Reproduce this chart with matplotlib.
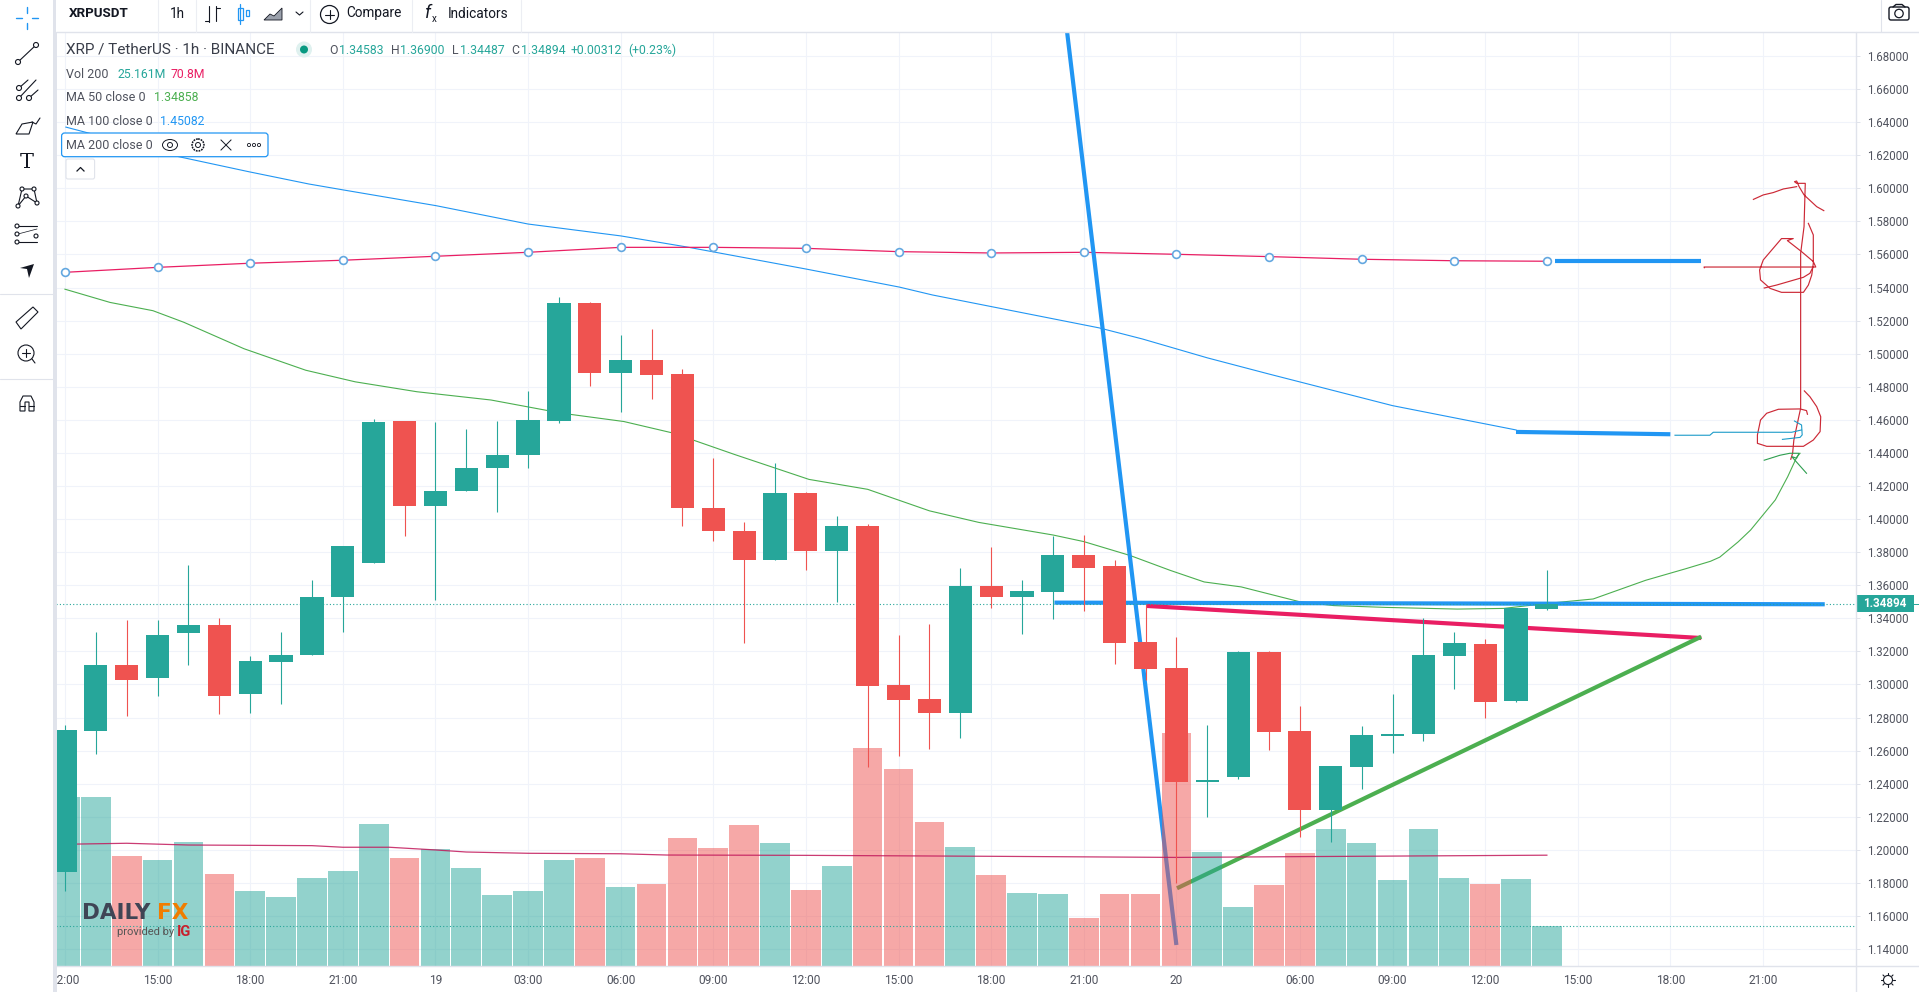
import matplotlib
matplotlib.use("Agg")
import matplotlib.pyplot as plt
from matplotlib.patches import Rectangle, Circle, FancyBboxPatch, Polygon, Ellipse

plt.rcParams['font.family'] = ['Roboto', 'DejaVu Sans']

# ---------- Candles (bar index = 1 hour) ----------
opens = [1.1868, 1.2720, 1.3120, 1.3040, 1.3310, 1.3360, 1.2940, 1.3133, 1.3180, 1.3526,
         1.3733, 1.4593, 1.4080, 1.4170, 1.4310, 1.4385, 1.4593, 1.5307, 1.4885, 1.4962,
         1.4877, 1.4070, 1.3930, 1.3755, 1.4160, 1.3810, 1.3960, 1.2997, 1.2912, 1.2828,
         1.3596, 1.3529, 1.3559, 1.3783, 1.3717, 1.3257, 1.3100, 1.2412, 1.2443, 1.3197,
         1.2720, 1.2243, 1.2503, 1.2689, 1.2703, 1.3174, 1.3245, 1.2902, 1.34583]
highs = [1.2755, 1.3320, 1.3390, 1.3390, 1.3720, 1.3400, 1.3170, 1.3320, 1.3630, 1.3840,
         1.4603, 1.4593, 1.4585, 1.4547, 1.4593, 1.4774, 1.5343, 1.5310, 1.5113, 1.5149,
         1.4906, 1.4370, 1.3985, 1.4340, 1.4165, 1.4020, 1.3970, 1.3299, 1.3366, 1.3704,
         1.3831, 1.3632, 1.3900, 1.3904, 1.3753, 1.3487, 1.3287, 1.2755, 1.3205, 1.3200,
         1.2870, 1.2507, 1.2750, 1.2942, 1.3400, 1.3317, 1.3275, 1.3464, 1.36900]
lows = [1.1753, 1.2580, 1.2810, 1.2930, 1.3120, 1.2820, 1.2830, 1.2880, 1.3180, 1.3320,
        1.3733, 1.3900, 1.3510, 1.4170, 1.4040, 1.4310, 1.4583, 1.4805, 1.4650, 1.4726,
        1.3960, 1.3867, 1.3250, 1.3755, 1.3690, 1.3500, 1.2500, 1.2570, 1.2610, 1.2679,
        1.3463, 1.3305, 1.3396, 1.3447, 1.3124, 1.3027, 1.1800, 1.2201, 1.2426, 1.2604,
        1.2080, 1.2048, 1.2367, 1.2587, 1.2660, 1.2974, 1.2798, 1.2896, 1.34487]
closes = [1.2725, 1.3120, 1.3030, 1.3300, 1.3360, 1.2930, 1.3140, 1.3180, 1.3530, 1.3840,
          1.4587, 1.4080, 1.4170, 1.4310, 1.4385, 1.4599, 1.5307, 1.4885, 1.4962, 1.4871,
          1.4070, 1.3930, 1.3755, 1.4160, 1.3810, 1.3960, 1.2990, 1.2906, 1.2828, 1.3596,
          1.3529, 1.3565, 1.3783, 1.3704, 1.3251, 1.3094, 1.2412, 1.2425, 1.3197, 1.2715,
          1.2243, 1.2507, 1.2695, 1.2700, 1.3179, 1.3252, 1.2896, 1.3464, 1.34894]
# volume in millions
volumes = [106.3, 106.3, 69.2, 66.7, 78.0, 57.9, 47.2, 43.4, 55.4, 59.8,
           89.3, 67.9, 73.6, 61.6, 44.7, 47.2, 66.7, 67.9, 49.7, 51.6,
           80.5, 74.2, 88.7, 77.4, 47.8, 62.9, 137.1, 123.9, 90.6, 74.9,
           57.2, 45.9, 45.3, 30.2, 45.3, 45.3, 146.6, 71.7, 37.1, 50.9,
           71.1, 86.2, 77.4, 54.1, 86.2, 55.4, 51.6, 54.7, 25.161]
last_close = 1.34894
last_volume = 25.161

# ---------- Axis ticks ----------
price_ticks = [1.14, 1.16, 1.18, 1.20, 1.22, 1.24, 1.26, 1.28, 1.30, 1.32, 1.34, 1.36, 1.38,
               1.40, 1.42, 1.44, 1.46, 1.48, 1.50, 1.52, 1.54, 1.56, 1.58, 1.60, 1.62, 1.64,
               1.66, 1.68]
time_idx = [0, 3, 6, 9, 12, 15, 18, 21, 24, 27, 30, 33, 36, 40, 43, 46, 49, 52, 55]
time_labels = ["12:00", "15:00", "18:00", "21:00", "19", "03:00", "06:00", "09:00", "12:00",
               "15:00", "18:00", "21:00", "20", "06:00", "09:00", "12:00", "15:00", "18:00",
               "21:00"]

# ---------- Moving averages ----------
ma50_x = [0, 1.46, 2.85, 3.85, 5.8, 7.8, 9.4, 11.4, 13.8, 16.1, 18.1, 19.7, 21.7, 24.1, 26.0, 28,
          29.6, 32, 33, 34.5, 35.8, 36.9, 38.1, 40, 41.1, 42.8, 45.1, 46.6, 48, 49.5, 51.2, 52.5,
          53.3, 53.6, 54.2, 54.6, 55.4, 55.8, 56.1, 56.2]
ma50_y = [1.539, 1.531, 1.526, 1.519, 1.503, 1.490, 1.483, 1.477, 1.472, 1.464, 1.459, 1.452,
          1.439, 1.424, 1.418, 1.405, 1.398, 1.3904, 1.3864, 1.378, 1.369, 1.362, 1.359, 1.350,
          1.3477, 1.3466, 1.3456, 1.346, 1.349, 1.3517, 1.363, 1.370, 1.3745, 1.377, 1.3863,
          1.3934, 1.4116, 1.4256, 1.4377, 1.4398]
ma100_x = [0.03, 3.69, 5.96, 7.9, 9.02, 12.02, 15, 18.01, 20.15, 24, 27.02, 28.1, 33.5, 34.9, 37,
           39, 43, 47]
ma100_y = [1.637, 1.6191, 1.610, 1.6026, 1.599, 1.5895, 1.5784, 1.5712, 1.5645, 1.5512, 1.5403,
           1.5355, 1.5156, 1.5089, 1.4975, 1.4877, 1.4686, 1.4539]
ma200_x = [0, 3, 6, 9, 12, 15, 18, 21, 24, 27, 30, 33, 36, 39, 42, 45, 48]
ma200_y = [1.5492, 1.5522, 1.5547, 1.5565, 1.5589, 1.5613, 1.5643, 1.5643, 1.5637, 1.5617,
           1.5609, 1.5613, 1.5601, 1.5587, 1.5571, 1.5562, 1.5559]
volma_x = [0.4, 2, 4, 8, 9, 10.5, 12, 13, 15, 18, 19.5, 24, 30, 36, 40, 48]
volma_y = [76.7, 77.2, 76.1, 75.7, 74.7, 74.7, 73.0, 71.7, 70.9, 70.6, 69.8, 69.6, 69.0, 68.3,
           68.8, 69.7]

# ---------- Drawn trend lines ----------
steep_x, steep_y = [32.46, 36.0], [1.6945, 1.1425]
level_x, level_y = [32.05, 57.0], [1.3495, 1.3485]
pink_x, pink_y = [35.03, 53.0], [1.3475, 1.3281]
green_x, green_y = [36.02, 53.0], [1.1768, 1.3289]
top_x, top_y = [48.25, 53.0], [1.5561, 1.5561]
mid_x, mid_y = [47.0, 52.0], [1.4527, 1.4513]

# ---------- Hand scribbles ----------
stroke_a_x = [55.90, 55.96, 56.00, 56.16, 56.22, 56.22, 56.33, 56.37, 56.09, 56.02, 56.09, 56.17,
              56.33, 56.74, 56.97]
stroke_a_y = [1.4362, 1.4398, 1.4478, 1.4619, 1.4670, 1.5607, 1.5768, 1.6030, 1.6030, 1.6040,
              1.6044, 1.6010, 1.5960, 1.5889, 1.5865]
stroke_b_x = [54.69, 55.01, 55.33, 55.66, 56.09]
stroke_b_y = [1.5933, 1.5960, 1.5974, 1.5996, 1.6010]
stroke_c_x = [53.10, 53.09, 56.71, 56.63, 56.25, 55.79, 55.98, 55.60, 55.33, 55.01, 54.89, 54.92,
              55.23, 55.60, 56.31, 56.47, 56.58, 56.63, 56.63, 56.47]
stroke_c_y = [1.5520, 1.5524, 1.5524, 1.5557, 1.5617, 1.5684, 1.5696, 1.5696, 1.5637, 1.5567,
              1.5506, 1.5446, 1.5395, 1.5371, 1.5371, 1.5415, 1.5476, 1.5547, 1.5718, 1.5788]
stroke_d_x = [55.04, 55.44, 56.31, 56.52, 56.60]
stroke_d_y = [1.5397, 1.5415, 1.5462, 1.5486, 1.5516]
stroke_e_x = [56.44, 56.41, 56.20, 55.50, 55.12, 54.92, 54.82, 54.82, 55.12, 56.31, 56.63, 56.85,
              56.87, 56.74, 56.52, 56.34]
stroke_e_y = [1.4634, 1.4656, 1.4666, 1.4664, 1.4640, 1.4599, 1.4509, 1.4458, 1.4440, 1.4440,
              1.4478, 1.4529, 1.4619, 1.4680, 1.4740, 1.4775]
hook_x = [52.15, 53.28, 53.39, 55.93, 56.25]
hook_y = [1.4507, 1.4507, 1.4525, 1.4525, 1.4539]
hook2_x = [56.02, 56.25, 56.27, 56.20, 55.63]
hook2_y = [1.4593, 1.4569, 1.4509, 1.4494, 1.4482]
arrow_x = [55.04, 55.55, 55.87, 56.17, 56.09, 55.93, 56.41]
arrow_y = [1.4356, 1.4386, 1.4398, 1.4398, 1.4368, 1.4378, 1.4277]

# ---------- Colours ----------
UP = "#26a69a"
DOWN = "#ef5350"
BLUE = "#2196f3"
PINK = "#e91e63"
GREEN = "#4caf50"
GRID = "#f0f3fa"
BORDER = "#e0e3eb"
TXT = "#50535e"
INK = "#131722"

W, H = 1919, 992
L, R, T, B = 56, 1855.6, 32, 966
fig = plt.figure(figsize=(W / 100, H / 100), dpi=100, facecolor="white")
rect = [L / W, 1 - B / H, (R - L) / W, (B - T) / H]
XLIM = (-0.29, 58.0)
YLIM = (1.1298, 1.6945)

# three stacked axes: lines go under the volume, candles on top of it
ax = fig.add_axes(rect, zorder=1)
vax = fig.add_axes(rect, zorder=2, facecolor="none")
cax = fig.add_axes(rect, zorder=3, facecolor="none")
for a in (ax, vax, cax):
    a.set_xlim(*XLIM)
    for sp in a.spines.values():
        sp.set_visible(False)
ax.set_ylim(*YLIM)
cax.set_ylim(*YLIM)
vax.set_ylim(0, 587.5)
for a in (vax, cax):
    a.set_xticks([])
    a.set_yticks([])

ax.set_yticks(price_ticks)
ax.set_yticklabels([f"{p:.5f}" for p in price_ticks], fontsize=8.3, color=TXT)
ax.yaxis.tick_right()
ax.tick_params(axis="y", length=3, width=0.7, color=BORDER, pad=5)
ax.set_xticks(time_idx)
ax.set_xticklabels(time_labels, fontsize=8.6, color=TXT)
ax.tick_params(axis="x", length=0, pad=6)
ax.grid(True, color=GRID, linewidth=0.8)
ax.set_axisbelow(True)

# moving averages and drawn lines
ax.plot(ma50_x, ma50_y, color=GREEN, lw=0.8)
ax.plot(ma100_x, ma100_y, color=BLUE, lw=0.8)
ax.plot(ma200_x, ma200_y, color=PINK, lw=0.9)
ax.plot(ma200_x, ma200_y, ls="none", marker="o", ms=5.6, mfc="white", mec="#64a8e0", mew=1.2)
ax.plot(steep_x, steep_y, color=BLUE, lw=3, solid_capstyle="butt")
ax.plot(level_x, level_y, color=BLUE, lw=3, solid_capstyle="butt")
ax.plot(pink_x, pink_y, color=PINK, lw=3, solid_capstyle="butt")
ax.plot(green_x, green_y, color=GREEN, lw=3, solid_capstyle="butt")
ax.plot(top_x, top_y, color=BLUE, lw=3, solid_capstyle="butt")
ax.plot(mid_x, mid_y, color=BLUE, lw=3, solid_capstyle="butt")

for sx, sy in [(stroke_a_x, stroke_a_y), (stroke_b_x, stroke_b_y), (stroke_c_x, stroke_c_y),
               (stroke_d_x, stroke_d_y), (stroke_e_x, stroke_e_y)]:
    ax.plot(sx, sy, color="#cc2936", lw=0.85)
ax.plot(hook_x, hook_y, color="#1b9bc9", lw=0.8)
ax.plot(hook2_x, hook2_y, color="#1b9bc9", lw=0.8)
ax.plot(arrow_x, arrow_y, color="#2e9e4f", lw=0.8)

# volume
xs = list(range(len(closes)))
is_up = [c >= o for o, c in zip(opens, closes)]
vax.bar(xs, volumes, width=0.96, color=[UP if u else DOWN for u in is_up], alpha=0.5, linewidth=0)
vax.plot(volma_x, volma_y, color="#c2185b", lw=0.9, alpha=0.85)
vax.axhline(last_volume, color=UP, lw=0.8, ls=(0, (1, 2)))

# candles
cols = [UP if u else DOWN for u in is_up]
cax.axhline(last_close, color=UP, lw=0.8, ls=(0, (1, 2)), zorder=1)
cax.vlines(xs, lows, highs, colors=cols, linewidth=0.8, zorder=2)
cax.bar(xs, [abs(c - o) for o, c in zip(opens, closes)], bottom=[min(o, c) for o, c in zip(opens, closes)],
        width=0.75, color=cols, linewidth=0, zorder=3)

# ---------- Screen chrome, in pixels ----------
ui = fig.add_axes([0, 0, 1, 1], zorder=5, facecolor="none")
ui.set_xlim(0, W)
ui.set_ylim(H, 0)
ui.axis("off")


def seg(xx, yy, color=INK, lw=0.8):
    ui.plot(xx, yy, color=color, lw=lw, solid_capstyle="round")


def ring(x, y, r=2.5, color=INK, lw=0.8):
    ui.add_patch(Circle((x, y), r, fc="white", ec=color, lw=lw, zorder=4))


ui.add_patch(Rectangle((0, 0), 53, H, fc="white", ec="none", zorder=1))
ui.add_patch(Rectangle((53, 0), 3.5, H, fc=BORDER, ec="none", zorder=1))
ui.add_patch(Rectangle((56, 0), W - 56, 32, fc="white", ec="none", zorder=1))
seg([56, W], [32, 32], BORDER, 1)
seg([R, R], [32, H], BORDER, 1)
seg([56, W], [B, B], BORDER, 1)
for x in [158, 195.5, 310, 412, 520.5]:
    seg([x, x], [0, 32], "#eceef3", 0.8)
seg([1880.7, 1880.7], [0, 32], BORDER, 0.8)
seg([0, 53], [294, 294], BORDER, 0.8)
seg([0, 53], [379, 379], BORDER, 0.8)

# top bar
ui.text(69, 13.5, "XRPUSDT", fontsize=9.6, fontweight="bold", color=INK, va="center")
ui.text(170, 13.5, "1h", fontsize=9.8, color=INK, va="center")
seg([209, 209], [6, 22]); seg([205, 209], [21, 21]); seg([216, 216], [6, 21]); seg([216, 220], [8, 8])
ui.add_patch(Rectangle((237.5, 8), 5, 12, fc="none", ec=BLUE, lw=0.9))
seg([240, 240], [4, 24], BLUE, 0.9)
ui.add_patch(Rectangle((245.5, 10), 3, 6, fc="none", ec=BLUE, lw=0.9))
ui.add_patch(Polygon([(264, 20), (270, 14), (274, 16), (282, 8), (282, 20)], fc="#9aa0ab", ec=INK, lw=0.6))
seg([296, 299.5, 303], [12, 15, 12])
ui.add_patch(Circle((329.5, 14.5), 9, fc="none", ec=INK, lw=0.9))
seg([325, 334], [14.5, 14.5]); seg([329.5, 329.5], [10, 19])
ui.text(346, 13.5, "Compare", fontsize=9.8, color=INK, va="center")
ui.text(425, 13, "f", fontsize=13, style="italic", color=INK, va="center")
ui.text(432, 19, "x", fontsize=7, color=INK, va="center")
ui.text(448, 13.5, "Indicators", fontsize=9.8, color=INK, va="center")
ui.add_patch(FancyBboxPatch((1889, 7), 20, 13, boxstyle="round,pad=0,rounding_size=2", fc="none", ec=INK, lw=1))
ui.add_patch(Circle((1899, 13.5), 4.2, fc="none", ec=INK, lw=0.9))
seg([1893, 1896, 1902, 1905], [7, 4.5, 4.5, 7], INK, 1)

# legend
ui.text(66, 50, "XRP / TetherUS · 1h · BINANCE", fontsize=11, color="#3a3e4a", va="center")
ui.add_patch(Circle((304, 49.5), 8, fc="#dff1ef", ec="none"))
ui.add_patch(Circle((304, 49.5), 4, fc="#089981", ec="none"))
for x, s, c in [(329, "O", TXT), (339, "1.34583", UP), (390.6, "H", TXT), (400, "1.36900", UP),
                (452, "L", TXT), (460, "1.34487", UP), (511.6, "C", TXT), (520.5, "1.34894", UP),
                (571, "+0.00312", UP), (628, "(+0.23%)", UP)]:
    ui.text(x, 50.5, s, fontsize=8.8, color=c, va="center")
ui.text(66, 74, "Vol 200", fontsize=9, color=TXT, va="center")
ui.text(117, 74, "25.161M", fontsize=8.8, color=UP, va="center")
ui.text(171, 74, "70.8M", fontsize=8.8, color=PINK, va="center")
ui.text(66, 97.5, "MA 50 close 0", fontsize=9, color=TXT, va="center")
ui.text(153.6, 97.5, "1.34858", fontsize=8.8, color=GREEN, va="center")
ui.text(66, 121.5, "MA 100 close 0", fontsize=9, color=TXT, va="center")
ui.text(160, 121.5, "1.45082", fontsize=8.8, color=BLUE, va="center")
ui.add_patch(FancyBboxPatch((61.6, 133), 206.4, 23.7, boxstyle="round,pad=0,rounding_size=3", fc="white",
                            ec=BLUE, lw=0.9, zorder=2))
ui.text(66, 145.5, "MA 200 close 0", fontsize=9, color=TXT, va="center", zorder=3)
ui.add_patch(Ellipse((170, 145), 15, 11, fc="none", ec=INK, lw=0.7, zorder=3))
ui.add_patch(Circle((170, 145), 2.5, fc="none", ec=INK, lw=0.7, zorder=3))
ui.add_patch(Circle((198, 145), 6, fc="none", ec=INK, lw=1.1, ls=(0, (1.2, 0.6)), zorder=3))
ui.add_patch(Circle((198, 145), 2.5, fc="none", ec=INK, lw=0.7, zorder=3))
ui.plot([221, 231], [140, 150], color=INK, lw=0.7, zorder=3)
ui.plot([221, 231], [150, 140], color=INK, lw=0.7, zorder=3)
for x in [249, 254, 259]:
    ui.add_patch(Circle((x, 145), 1.6, fc="none", ec=INK, lw=0.6, zorder=3))
ui.add_patch(FancyBboxPatch((66, 159), 28.6, 20, boxstyle="round,pad=0,rounding_size=2", fc="white",
                            ec=BORDER, lw=0.8, zorder=2))
ui.plot([77, 80.5, 84], [171, 167.5, 171], color=INK, lw=0.9, zorder=3)

# left tool bar
seg([27, 27], [7, 13], BLUE, 1); seg([27, 27], [23, 29], BLUE, 1)
seg([16, 22], [18, 18], BLUE, 1); seg([32, 38], [18, 18], BLUE, 1)
seg([18, 36], [62, 45]); ring(18, 62); ring(36, 45)
seg([19, 28], [88, 80]); seg([19, 36], [98, 80]); seg([29, 38], [98, 90]); ring(19, 88); ring(19, 98); ring(29, 98)
ui.add_patch(Polygon([(16, 134), (22, 124), (33, 122), (29, 134)], fc="none", ec=INK, lw=0.8))
seg([32, 36, 40], [122, 124, 118])
ui.text(27, 163, "T", fontsize=15, color=INK, ha="center", va="center", family="DejaVu Serif")
seg([18, 22, 34, 37, 26, 18], [206, 189, 189, 203, 196, 206])
for px, py in [(18, 206), (22, 189), (34, 189), (37, 203), (26, 196)]:
    ring(px, py, 2)
seg([18, 37], [226, 226]); seg([18, 37], [242, 242]); seg([18, 37], [234, 229], INK, 0.5)
ring(17, 226, 2); ring(17, 234, 2); ring(17, 242, 2); ring(36, 236, 2)
ui.add_patch(Polygon([(20, 268), (34, 264), (29, 278), (27, 269)], fc="#131722", ec="none"))
ui.add_patch(Polygon([(16, 322), (33, 307), (38, 312), (21, 329)], fc="none", ec=INK, lw=0.8))
ui.add_patch(Circle((26, 353), 8, fc="none", ec=INK, lw=0.8))
seg([22, 30], [353, 353]); seg([26, 26], [349, 357]); seg([32, 35], [359, 363])
ui.add_patch(Polygon([(20, 411), (20, 402), (23, 396), (31, 396), (34, 402), (34, 411), (29, 411), (29, 402),
                      (25, 402), (25, 411)], fc="none", ec=INK, lw=0.8))
seg([20, 25], [406, 406]); seg([29, 34], [406, 406])

# price label on the scale
ui.add_patch(Rectangle((R, 595), 58, 17, fc=UP, ec="none"))
ui.text(1885, 603.5, f"{last_close:.5f}", fontsize=8.4, color="white", ha="center", va="center",
        fontweight="bold")
seg([1913, W], [603.5, 603.5], UP, 0.7)

# settings icon under the scale
ui.add_patch(Circle((1888, 980), 4.5, fc="none", ec=INK, lw=0.8))
for dx, dy in [(0, -7), (0, 7), (-7, 0), (7, 0), (-5, -5), (5, 5), (-5, 5), (5, -5)]:
    seg([1888 + dx * 0.75, 1888 + dx], [980 + dy * 0.75, 980 + dy], INK, 0.8)

# watermark
ui.text(82, 913, "DAILY", fontsize=15.5, fontweight="bold", color="#3f4555", va="center", family="DejaVu Sans")
ui.text(157, 913, "FX", fontsize=15.5, fontweight="bold", color="#f07d00", va="center", family="DejaVu Sans")
ui.text(117, 931.7, "provided by", fontsize=8, color="#555555", va="center")
ui.text(177, 931.5, "IG", fontsize=10.5, fontweight="bold", color="#c8202d", va="center")

fig.savefig("out.png", dpi=100)
